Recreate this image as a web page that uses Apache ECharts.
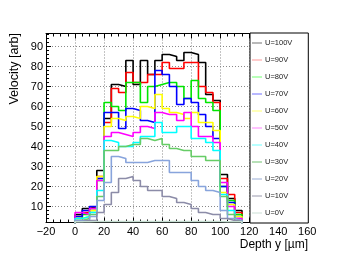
<!DOCTYPE html>
<html>
<head>
<meta charset="utf-8">
<script src="https://cdn.jsdelivr.net/npm/echarts@6/dist/echarts.min.js"></script>
<style>
html,body{margin:0;padding:0;background:#fff;}
#chart{width:354px;height:256px;}
</style>
</head>
<body>
<div id="chart"></div>
<script>
// Bin low edges (µm), bin width 5
const binLow = [0,5,10,15,20,25,30,35,40,45,50,55,60,65,70,75,80,85,90,95,100,105,110];
const binWidth = 5;

const seriesNames = ['U=100V','U=90V','U=80V','U=70V','U=60V','U=50V','U=40V','U=30V','U=20V','U=10V','U=0V'];

const v100 = [6, 9, 10, 28, 54, 71, 70, 83, 71, 83, 76, 83, 86, 85, 83, 87, 86, 82, 66, 63, 26, 14, 8];
const v90  = [5, 7, 9, 25, 52, 69, 67, 77, 72, 72, 76, 76, 82, 79, 79, 82, 82, 70, 67, 62, 24, 16, 7];
const v80  = [4, 6, 8, 23, 62, 60, 58, 72, 72, 62, 70, 71, 72, 72, 70, 64, 73, 64, 62, 58, 20, 13, 6];
const v70  = [5, 8, 10, 24, 57, 57, 49, 59, 58, 53, 52, 78, 76, 70, 61, 64, 62, 56, 50, 44, 20, 12, 5];
const v60  = [4, 5, 8, 25, 50, 54, 53, 55, 54, 60, 59, 66, 59, 57, 56, 54, 57, 52, 52, 48, 17, 11, 5];
const v50  = [7, 6, 9, 23, 45, 47, 46, 45, 47, 50, 49, 57, 56, 56, 53, 57, 50, 45, 45, 42, 22, 10, 4];
const v40  = [4, 5, 7, 18, 43, 42, 40, 40, 42, 45, 45, 52, 47, 47, 50, 50, 44, 44, 42, 38, 16, 8, 3];
const v30  = [3, 4, 6, 15, 38, 38, 40, 41, 41, 44, 43, 44, 41, 39, 38, 38, 35, 35, 33, 33, 15, 6, 3];
const v20  = [3, 3, 5, 13, 22, 35, 34, 32, 32, 32, 33, 33, 33, 27, 27, 27, 23, 20, 18, 17, 8, 4, 3];
const v10  = [2.5, 3, 3, 7, 11, 17, 24, 25, 23, 20, 18, 18, 15, 14, 12, 11, 9, 7, 6, 6, 4, 3, 2.5];
const v0   = [2.4, 2.4, 2.5, 2.5, 2.5, 2.5, 2.5, 2.5, 2.5, 2.5, 2.5, 2.5, 2.5, 2.5, 2.5, 2.5, 2.5, 2.5, 2.5, 2.5, 2.4, 2.4, 2.4];

const xTicks = [-20,0,20,40,60,80,100,120,140,160];
const yTicks = [10,20,30,40,50,60,70,80,90];

const allValues = [v100, v90, v80, v70, v60, v50, v40, v30, v20, v10, v0];
const lineColors = ['#000000','#ff0000','#00e600','#0000ff','#ffff00','#ff00ff','#00ffff','#66cc66','#88a4dc','#8c8ca8','#c4dcd0'];
const legendColors = ['#8a8a8a','#ffaaaa','#88ff88','#8888ff','#ffff88','#ff99ff','#88ffff','#88cc88','#aabbdd','#aaaabb','#d4e4dc'];

function stepData(vals){
  const d = [[binLow[0], 0]];
  vals.forEach((v,i)=>d.push([binLow[i], v]));
  d.push([binLow[binLow.length-1] + binWidth, 0]);
  return d;
}

const FONT = 'Liberation Sans, Arial, Helvetica, sans-serif';
const chart = echarts.init(document.getElementById('chart'), null, {renderer:'canvas'});

const series = seriesNames.map((n,i)=>({
  name: n,
  type: 'line',
  step: 'end',
  data: stepData(allValues[i]),
  showSymbol: false,
  symbol: 'none',
  clip: true,
  lineStyle: {color: lineColors[i], width: 1.6},
  itemStyle: {color: lineColors[i]},
  animation: false,
  z: 2 + i*0.01
}));

const option = {
  animation: false,
  backgroundColor: '#ffffff',
  grid: {left: 46, top: 33.5, right: 46.7, bottom: 33.5, show: false},
  xAxis: [{
    type: 'value', min: xTicks[0], max: xTicks[xTicks.length-1], interval: 20,
    axisLine: {show: true, onZero: false, lineStyle: {color: '#000', width: 1}},
    axisTick: {show: true, inside: true, length: 5, lineStyle: {color: '#000'}},
    minorTick: {show: true, splitNumber: 4, length: 3, lineStyle: {color: '#000'}},
    axisLabel: {show: true, margin: 4, color: '#000', fontSize: 11, fontFamily: FONT,
      formatter: v => (v < 0 ? '\u2212' + Math.abs(v) : String(v))},
    splitLine: {show: true, lineStyle: {color: '#888', type: [1,2], width: 1}}
  },{
    type: 'value', position: 'top', min: xTicks[0], max: xTicks[xTicks.length-1], interval: 20,
    axisLine: {show: true, onZero: false, lineStyle: {color: '#000', width: 1}},
    axisTick: {show: true, inside: true, length: 5, lineStyle: {color: '#000'}},
    minorTick: {show: true, splitNumber: 4, length: 3, lineStyle: {color: '#000'}},
    axisLabel: {show: false},
    splitLine: {show: false}
  }],
  yAxis: [{
    type: 'value', min: 2, max: 96.5, splitNumber: 10, minInterval: 10, maxInterval: 10,
    axisLine: {show: true, onZero: false, lineStyle: {color: '#000', width: 1}},
    axisTick: {show: true, inside: true, length: 5, lineStyle: {color: '#000'}},
    minorTick: {show: true, splitNumber: 5, length: 3, lineStyle: {color: '#000'}},
    axisLabel: {show: true, margin: 3, color: '#000', fontSize: 11, fontFamily: FONT,
      showMinLabel: false, showMaxLabel: false,
      formatter: v => (yTicks.indexOf(v) >= 0 ? String(v) : '')},
    splitLine: {show: true, lineStyle: {color: '#888', type: [1,2], width: 1}}
  }],
  legend: {
    show: true,
    orient: 'vertical',
    left: 250, top: 33,
    padding: [6, 16, 6, 2],
    itemGap: 9,
    itemWidth: 10, itemHeight: 7,
    backgroundColor: '#ffffff',
    borderColor: '#000', borderWidth: 1, borderRadius: 0,
    icon: 'path://M0,0 L10,0 L10,1.2 L0,1.2 Z',
    textStyle: {fontSize: 7.5, color: '#222', fontFamily: FONT, padding: [0,0,0,-2]},
    data: seriesNames.map((n,i)=>({name: n, itemStyle: {color: legendColors[i]}})),
    selectedMode: false,
    z: 10
  },
  graphic: [
    {type: 'text', x: 308, y: 245, z: 20,
      style: {text: 'Depth y [\u00b5m]', fill: '#000', font: '12px ' + FONT, align: 'right', verticalAlign: 'middle'}},
    {type: 'text', x: 15, y: 33, rotation: Math.PI/2, z: 20,
      style: {text: 'Velocity [arb]', fill: '#000', font: '12.5px ' + FONT, align: 'right', verticalAlign: 'middle'}}
  ],
  series: series
};
chart.setOption(option);
</script>
</body>
</html>
